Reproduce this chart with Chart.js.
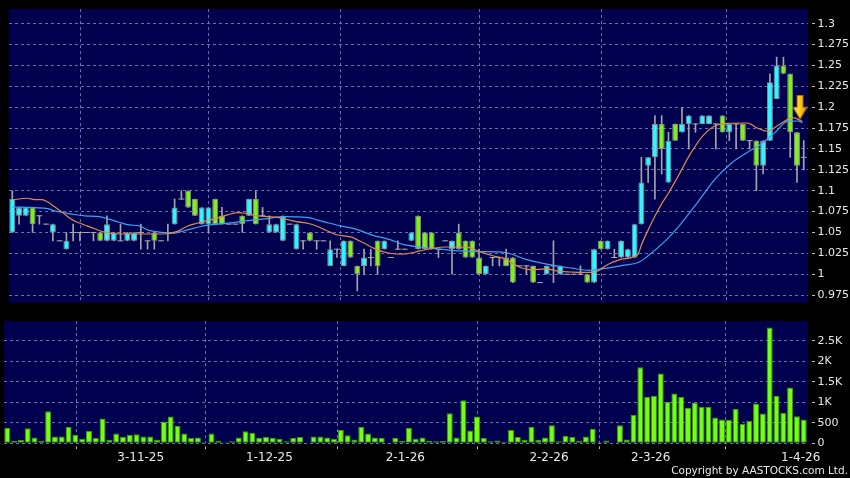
<!DOCTYPE html>
<html><head><meta charset="utf-8">
<script src="https://cdn.jsdelivr.net/npm/chart.js@4.4.1/dist/chart.umd.min.js"></script>
<style>
html,body{margin:0;padding:0;background:#000;width:850px;height:478px;overflow:hidden}
#price{position:absolute;left:0;top:0}
#vol{position:absolute;left:0;top:312px}
#copy{position:absolute;right:2px;top:464px;font:10.5px "DejaVu Sans";line-height:12px;color:#e8e8e8;white-space:nowrap}
</style></head><body>
<canvas id="price" width="850" height="312"></canvas>
<canvas id="vol" width="850" height="166"></canvas>
<div id="copy">Copyright by AASTOCKS.com Ltd.</div>
<script>
// ---- data ----
const opens  = [1.05,1.07,1.07,1.08,1.07,1.06,1.05,1.04,1.03,1.05,1.05,1.05,1.05,1.05,1.04,1.04,1.04,1.04,1.04,1.05,
1.04,1.05,1.04,1.05,1.06,1.09,1.10,1.09,1.06,1.06,1.09,1.07,1.06,1.06,1.07,1.07,1.09,1.07,1.05,1.05,
1.04,1.06,1.03,1.04,1.05,1.04,1.04,1.01,1.03,1.01,1.04,1.01,1.01,1.02,1.04,1.03,1.02,1.03,1.03,1.04,
1.07,1.05,1.05,1.03,1.04,1.03,1.05,1.04,1.04,1.02,1.00,1.02,1.02,1.02,1.02,1.01,1.01,1.01,0.99,1.00,
1.01,1.00,1.00,1.00,1.00,1.00,0.99,1.04,1.03,1.02,1.02,1.02,1.02,1.06,1.13,1.14,1.18,1.11,1.18,1.17,
1.18,1.18,1.18,1.18,1.18,1.19,1.17,1.18,1.18,1.16,1.16,1.13,1.16,1.21,1.25,1.24,1.17,1.14];
const highs  = [1.10,1.08,1.08,1.08,1.07,1.06,1.06,1.04,1.05,1.06,1.05,1.05,1.05,1.05,1.07,1.05,1.06,1.05,1.05,1.06,
1.04,1.05,1.04,1.06,1.09,1.10,1.10,1.09,1.08,1.08,1.09,1.08,1.06,1.06,1.07,1.09,1.10,1.08,1.07,1.06,
1.07,1.06,1.06,1.04,1.05,1.04,1.04,1.04,1.03,1.04,1.04,1.01,1.03,1.03,1.04,1.04,1.02,1.04,1.03,1.05,
1.07,1.05,1.05,1.03,1.04,1.04,1.06,1.04,1.04,1.03,1.01,1.02,1.02,1.03,1.02,1.01,1.01,1.01,0.99,1.01,
1.04,1.01,1.00,1.00,1.01,1.00,1.03,1.04,1.04,1.03,1.04,1.03,1.06,1.14,1.14,1.19,1.19,1.17,1.18,1.20,
1.19,1.18,1.19,1.19,1.18,1.19,1.18,1.18,1.18,1.16,1.16,1.16,1.24,1.26,1.26,1.24,1.17,1.16];
const lows   = [1.05,1.06,1.07,1.05,1.06,1.06,1.04,1.04,1.03,1.04,1.04,1.05,1.04,1.04,1.04,1.04,1.04,1.04,1.04,1.03,
1.03,1.03,1.04,1.04,1.06,1.09,1.08,1.07,1.06,1.05,1.06,1.06,1.06,1.06,1.05,1.07,1.06,1.07,1.05,1.05,
1.04,1.06,1.03,1.03,1.04,1.03,1.04,1.01,1.02,1.01,1.02,0.98,1.00,1.01,1.00,1.03,1.02,1.03,1.03,1.04,
1.03,1.03,1.03,1.02,1.04,1.00,1.03,1.02,1.02,1.00,1.00,1.01,1.01,1.01,0.99,1.01,1.00,0.99,0.99,1.00,
0.99,1.00,1.00,1.00,1.00,0.99,0.99,1.03,1.03,1.02,1.02,1.02,1.02,1.06,1.11,1.09,1.12,1.11,1.16,1.17,
1.15,1.17,1.18,1.18,1.15,1.17,1.16,1.15,1.16,1.15,1.10,1.12,1.16,1.21,1.24,1.14,1.11,1.125];
const closes = [1.09,1.08,1.08,1.06,1.07,1.06,1.06,1.04,1.04,1.05,1.05,1.05,1.05,1.04,1.06,1.05,1.04,1.05,1.05,1.05,
1.04,1.04,1.04,1.05,1.08,1.09,1.08,1.07,1.08,1.08,1.06,1.06,1.06,1.06,1.06,1.09,1.06,1.07,1.06,1.06,
1.07,1.06,1.06,1.04,1.04,1.04,1.04,1.03,1.03,1.04,1.02,1.00,1.02,1.02,1.01,1.04,1.02,1.03,1.03,1.05,
1.03,1.03,1.03,1.03,1.04,1.04,1.03,1.02,1.02,1.00,1.01,1.02,1.02,1.01,0.99,1.01,1.01,0.99,0.99,1.01,
1.01,1.01,1.00,1.00,1.00,0.99,1.03,1.03,1.04,1.02,1.04,1.03,1.06,1.11,1.14,1.18,1.15,1.16,1.16,1.18,
1.19,1.18,1.19,1.19,1.18,1.17,1.18,1.18,1.16,1.16,1.13,1.16,1.23,1.25,1.24,1.17,1.13,1.14];
const volumes = [373,56,79,365,143,64,778,167,167,405,206,111,302,127,603,87,238,159,206,222,
167,167,87,532,651,421,238,127,143,24,238,64,24,48,143,294,254,127,151,135,
111,48,135,151,16,167,167,143,111,326,199,95,397,238,143,127,16,135,56,373,
111,143,64,48,56,730,143,1048,310,651,127,48,71,40,326,151,87,405,87,143,
437,48,183,151,64,167,357,24,71,8,437,95,691,1850,1135,1159,1699,1008,1215,1128,
865,993,889,889,627,580,572,834,468,548,969,723,2819,1159,746,1358,659,580];
// moving-average lines: [bar position, price]
const maFast = [[0,1.089],[2.2,1.091],[3.3,1.0894],[4.4,1.0894],[5.25,1.0864],[6.3,1.0805],[7.3,1.0747],[8.2,1.0689],
[9.2,1.0637],[10.7,1.059],[12.2,1.0544],[13.6,1.0505],[15.1,1.0485],[18.8,1.0482],[21,1.0482],[22.9,1.0485],
[24.4,1.0513],[25.8,1.0572],[27.3,1.061],[28.8,1.0642],[30.25,1.0669],[31.7,1.0707],[33.2,1.0739],[34.7,1.0727],
[36.1,1.070],[37.9,1.0689],[39.1,1.068],[42,1.063],[44.1,1.0602],[46,1.054],[47.9,1.0473],[50,1.0447],
[51.9,1.0376],[53.8,1.0298],[55.8,1.0251],[57.75,1.024],[60.25,1.0279],[62.2,1.031],[64.1,1.0326],[66.1,1.0326],
[67.6,1.0318],[69.1,1.0271],[71,1.0221],[72.9,1.0181],[75,1.0084],[76.9,1.0053],[78.8,1.0064],[80.8,1.0037],
[82.75,1.0026],[84.7,1.0022],[86.1,1.0026],[88.2,1.0123],[90.1,1.0181],[92.5,1.024],[93,1.035],[94,1.053],
[94.9,1.068],[95.9,1.083],[97,1.097],[98.4,1.117],[100.3,1.145],[102.2,1.167],[103.7,1.177],[105.7,1.1806],
[108.7,1.1811],[110.1,1.1752],[111.6,1.1713],[113.5,1.1799],[115.4,1.1876],[116.8,1.183]];
const maSlow = [[0,1.0805],[3.3,1.0797],[5.25,1.0786],[6.3,1.0759],[7.75,1.0735],[9.2,1.0715],[10.7,1.070],[12.9,1.0689],
[14.4,1.0657],[15.8,1.0622],[17.3,1.059],[18.8,1.058],[20,1.0532],[22,1.0502],[23.9,1.0493],[25.4,1.052],
[26.9,1.0552],[28.3,1.0579],[30.8,1.0602],[32.75,1.0618],[34.7,1.0642],[36.7,1.0657],[37.9,1.0669],[40.1,1.0689],
[43.5,1.068],[46,1.063],[48.5,1.0579],[50.8,1.054],[53.3,1.0466],[55.8,1.0415],[57.75,1.0357],[60.25,1.0326],
[63.6,1.0298],[66.1,1.0279],[69.1,1.0271],[72.9,1.026],[75.8,1.0181],[78.8,1.0123],[82.75,1.0072],[85.25,1.0046],
[87.1,1.0064],[90.1,1.0104],[92.6,1.0143],[94,1.0221],[96.5,1.0396],[98.9,1.061],[101.4,1.087],[103.8,1.113],
[106.3,1.133],[108.7,1.146],[110.7,1.156],[112.65,1.169],[114.6,1.183],[116.1,1.1835],[116.8,1.1815]];
const arrowMark = [[116.45, 1.2]];
// axis ticks
const dateTickPos = [19.6, 38.5, 58.47, 79.58, 94.52, 116.56];
const dateTickLabels = ['3-11-25','1-12-25','2-1-26','2-2-26','2-3-26','1-4-26'];
const priceTicks = [1.3,1.275,1.25,1.225,1.2,1.175,1.15,1.125,1.1,1.075,1.05,1.025,1,0.975];
const priceTickLabels = ['1.3','1.275','1.25','1.225','1.2','1.175','1.15','1.125','1.1','1.075','1.05','1.025','1','0.975'];
const volTicks = [2500,2000,1500,1000,500,0];
const volTickLabels = ['2.5K','2K','1.5K','1K','500','0'];

// ---- styling ----
const NAVY = '#00004f';
const GRID = '#7070a8';
const TXT = '#e8e8e8';
const FONT = 'DejaVu Sans';
const XMIN = -0.485, XMAX = 117.63;

const panelBg = { id: 'panelBg', beforeDraw(chart) {
  const {ctx, chartArea: a} = chart;
  ctx.save(); ctx.fillStyle = NAVY; ctx.fillRect(a.left, a.top, a.right - a.left, a.bottom - a.top); ctx.restore();
}};

function xAxis(showLabels, height) {
  return {
    type: 'linear', min: XMIN, max: XMAX, offset: false,
    afterBuildTicks: s => { s.ticks = dateTickPos.map(v => ({value: v})); },
    afterFit: s => { s.height = height; },
    ticks: { display: showLabels, autoSkip: false, maxRotation: 0, color: TXT, padding: 1,
      font: {family: FONT, size: 12}, callback: (v, i) => dateTickLabels[i] },
    grid: { color: GRID, lineWidth: 1, drawTicks: showLabels, tickLength: 6,
      tickColor: '#bdbdbd', tickWidth: 1, tickBorderDash: [0, 3.4, 2.6, 20] },
    border: { display: false, dash: [3, 3] }
  };
}
function yAxis(min, max, ticks, labels) {
  return {
    position: 'right', min: min, max: max,
    afterBuildTicks: s => { s.ticks = ticks.map(v => ({value: v})); },
    afterFit: s => { s.width = 42; },
    ticks: { color: TXT, padding: 2.5, font: {family: FONT, size: 11}, callback: (v, i) => labels[i] },
    grid: { color: GRID, lineWidth: 1, tickLength: 7, tickColor: '#bdbdbd',
      tickWidth: 1, tickBorderDash: [0, 4, 3, 20] },
    border: { display: false, dash: [3, 3] }
  };
}

// arrow marker image
const arrowImg = document.createElement('canvas');
arrowImg.width = 15; arrowImg.height = 25;
(function () {
  const g = arrowImg.getContext('2d');
  const grad = g.createLinearGradient(0, 0, 15, 0);
  grad.addColorStop(0, '#fff08a'); grad.addColorStop(0.45, '#ffd21a'); grad.addColorStop(1, '#e08a00');
  g.fillStyle = grad;
  g.beginPath();
  g.moveTo(4.5, 0.5); g.lineTo(10.5, 0.5); g.lineTo(10.5, 12.5); g.lineTo(14.5, 12.5);
  g.lineTo(7.5, 24.5); g.lineTo(0.5, 12.5); g.lineTo(4.5, 12.5); g.closePath();
  g.fill();
  g.strokeStyle = '#a86200'; g.lineWidth = 1; g.stroke();
})();

// ---- build datasets ----
const idx = opens.map((_, i) => i);
const DOJI = 0.0006;
const bodyData = idx.map(i => opens[i] === closes[i]
  ? {x: i, y: [closes[i] - DOJI, closes[i] + DOJI]}
  : {x: i, y: [opens[i], closes[i]]});
const bodyFill = idx.map(i => closes[i] > opens[i] ? '#30f4ff' : (closes[i] < opens[i] ? '#80f01c' : '#a8a8a8'));
const bodyBorder = idx.map(i => closes[i] === opens[i] ? 'rgba(0,0,0,0)' : '#8c8c8c');
const bodyBW = idx.map(i => closes[i] === opens[i] ? 0 : 1);

new Chart(document.getElementById('price'), {
  type: 'bar',
  data: { datasets: [
    { type: 'bar', data: idx.map(i => ({x: i, y: [lows[i], highs[i]]})), backgroundColor: '#a4a4a4',
      barThickness: 1, grouped: false, order: 5 },
    { type: 'bar', data: bodyData, backgroundColor: bodyFill, borderColor: bodyBorder, borderWidth: bodyBW,
      borderSkipped: false, barPercentage: 0.88, categoryPercentage: 1, grouped: false, order: 4 },
    { type: 'line', data: maSlow.map(p => ({x: p[0], y: p[1]})), borderColor: '#3aa2f2', borderWidth: 1.2,
      pointRadius: 0, cubicInterpolationMode: 'monotone', order: 3 },
    { type: 'line', data: maFast.map(p => ({x: p[0], y: p[1]})), borderColor: '#e3874c', borderWidth: 1.2,
      pointRadius: 0, cubicInterpolationMode: 'monotone', order: 2 },
    { type: 'line', data: arrowMark.map(p => ({x: p[0], y: p[1]})), showLine: false,
      pointStyle: arrowImg, pointRadius: 8, order: 1 }
  ]},
  options: {
    responsive: false, animation: false, devicePixelRatio: 1, events: [],
    layout: { padding: { left: 4, top: 5, right: 0, bottom: 6 } },
    plugins: { legend: { display: false }, tooltip: { enabled: false } },
    scales: { x: xAxis(false, 0), y: yAxis(0.96566, 1.31754, priceTicks, priceTickLabels) }
  },
  plugins: [panelBg]
});

new Chart(document.getElementById('vol'), {
  type: 'bar',
  data: { datasets: [
    { type: 'bar', data: idx.map(i => ({x: i, y: volumes[i]})), backgroundColor: '#72ff14',
      borderColor: '#3f9a08', borderWidth: 1, borderSkipped: false, barPercentage: 0.88, categoryPercentage: 1 }
  ]},
  options: {
    responsive: false, animation: false, devicePixelRatio: 1, events: [],
    layout: { padding: { left: 4, top: 6.3, right: 0, bottom: 0 } },
    plugins: { legend: { display: false }, tooltip: { enabled: false } },
    scales: { x: xAxis(true, 34.7), y: yAxis(0, 2976, volTicks, volTickLabels) }
  },
  plugins: [panelBg]
});
</script>
</body></html>
